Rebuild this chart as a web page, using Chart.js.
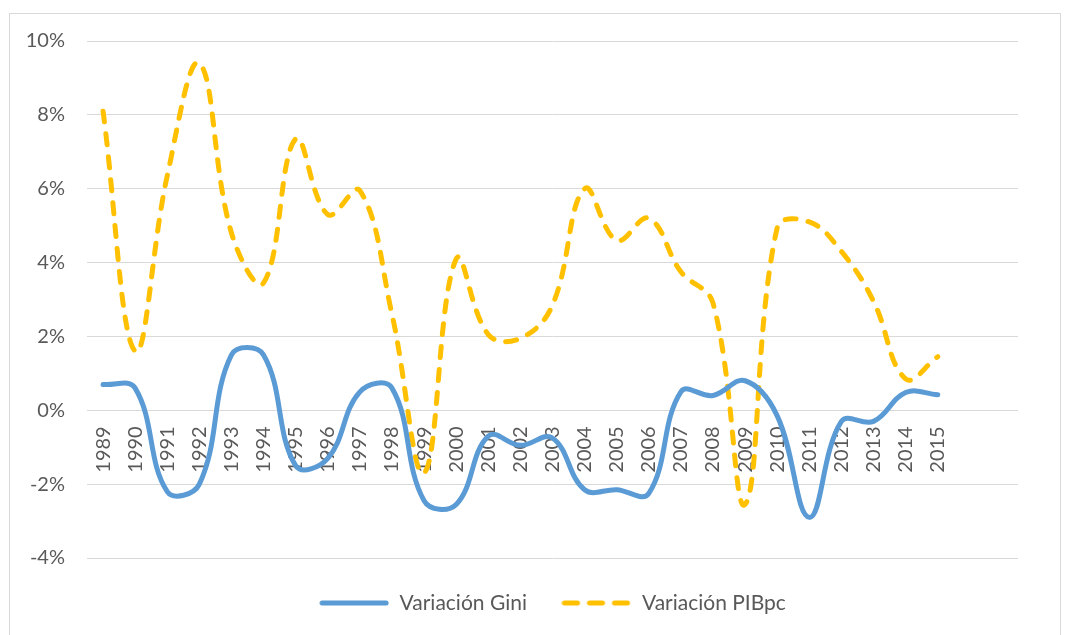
<!DOCTYPE html>
<html>
<head>
<meta charset="utf-8">
<script src="https://cdn.jsdelivr.net/npm/chart.js@4/dist/chart.umd.min.js"></script>
<style>
  html, body { margin: 0; padding: 0; background: #ffffff; }
  #wrap { width: 1071px; height: 635px; position: relative; }
</style>
</head>
<body>
<div id="wrap"><canvas id="c" width="1071" height="635"></canvas></div>
<script>
// ---- data (percent) ----
const years = ['1989','1990','1991','1992','1993','1994','1995','1996','1997','1998','1999','2000',
               '2001','2002','2003','2004','2005','2006','2007','2008','2009','2010','2011','2012',
               '2013','2014','2015'];
const emptyCategories = ['', ''];
const giniVariation = [0.7, 0.6, -2.2, -2.0, 1.5, 1.5, -1.5, -1.3, 0.5, 0.6, -2.45, -2.55,
                       -0.7, -0.95, -0.75, -2.15, -2.15, -2.25, 0.5, 0.4, 0.8, -0.15, -2.9, -0.3,
                       -0.3, 0.48, 0.42];
const pibpcVariation = [8.1, 1.6, 6.35, 9.4, 4.8, 3.45, 7.35, 5.3, 5.95, 2.6, -1.7, 4.1,
                        2.05, 1.95, 2.85, 6.0, 4.6, 5.2, 3.75, 2.9, -2.55, 4.95, 5.1, 4.3,
                        2.95, 0.85, 1.45];
const seriesNames = ['Variación Gini', 'Variación PIBpc'];
const yMin = -4, yMax = 10, yStep = 2;

const giniColor = '#5B9BD5';
const pibColor = '#FFC000';

Chart.defaults.font.family = 'Lato, "Liberation Sans", sans-serif';
Chart.defaults.color = '#595959';

// legend swatches (line samples) used as point styles by the legend
function makeSwatch(color, dashed) {
  const c = document.createElement('canvas');
  c.width = 70; c.height = 8;
  const g = c.getContext('2d');
  g.strokeStyle = color;
  g.lineWidth = 5;
  g.lineCap = 'round';
  g.beginPath();
  if (dashed) {
    for (let k = 0; k < 3; k++) {
      const x0 = 3 + k * 25;
      g.moveTo(x0, 4); g.lineTo(x0 + 13, 4);
    }
  } else {
    g.moveTo(3, 4); g.lineTo(67, 4);
  }
  g.stroke();
  return c;
}
const giniSwatch = makeSwatch(giniColor, false);
const pibSwatch = makeSwatch(pibColor, true);

const frame = {
  id: 'frame',
  beforeDraw(chart) {
    const ctx = chart.ctx;
    ctx.save();
    ctx.fillStyle = '#ffffff';
    ctx.fillRect(0, 0, chart.width, chart.height);
    ctx.strokeStyle = '#d9d9d9';
    ctx.lineWidth = 1;
    ctx.strokeRect(9.5, 13.5, 1051, 640);
    ctx.restore();
  }
};

new Chart(document.getElementById('c'), {
  type: 'line',
  data: {
    labels: years.concat(emptyCategories),
    datasets: [
      {
        label: seriesNames[0],
        data: giniVariation,
        borderColor: giniColor,
        backgroundColor: giniColor,
        borderWidth: 5,
        borderCapStyle: 'round',
        borderJoinStyle: 'round',
        pointStyle: giniSwatch,
        pointRadius: 0,
        pointHoverRadius: 0,
        tension: 0.4,
        fill: false
      },
      {
        label: seriesNames[1],
        data: pibpcVariation,
        borderColor: pibColor,
        backgroundColor: pibColor,
        borderWidth: 5,
        borderDash: [11, 12],
        borderCapStyle: 'round',
        borderJoinStyle: 'round',
        pointStyle: pibSwatch,
        pointRadius: 0,
        pointHoverRadius: 0,
        tension: 0.4,
        fill: false
      }
    ]
  },
  options: {
    responsive: false,
    animation: false,
    devicePixelRatio: 1,
    layout: { padding: { top: 41, right: 53, bottom: 11.5, left: 0 } },
    scales: {
      x: {
        type: 'category',
        position: { y: 0 },
        offset: true,
        grid: { display: false, drawTicks: false },
        border: { display: false },
        ticks: {
          autoSkip: false,
          maxRotation: 90,
          minRotation: 90,
          padding: 16,
          font: { size: 20 },
          color: '#595959'
        }
      },
      y: {
        min: yMin,
        max: yMax,
        afterFit(scale) { scale.width = 87; },
        grid: { color: '#d9d9d9', lineWidth: 1, drawTicks: false },
        border: { display: false },
        ticks: {
          stepSize: yStep,
          padding: 22,
          font: { size: 20 },
          color: '#595959',
          callback: (v) => v + '%'
        }
      }
    },
    plugins: {
      legend: {
        position: 'bottom',
        fullSize: false,
        labels: {
          usePointStyle: true,
          pointStyleWidth: 70,
          padding: 34.5,
          font: { size: 21 },
          color: '#595959'
        }
      },
      tooltip: { enabled: false }
    }
  },
  plugins: [frame]
});
</script>
</body>
</html>
